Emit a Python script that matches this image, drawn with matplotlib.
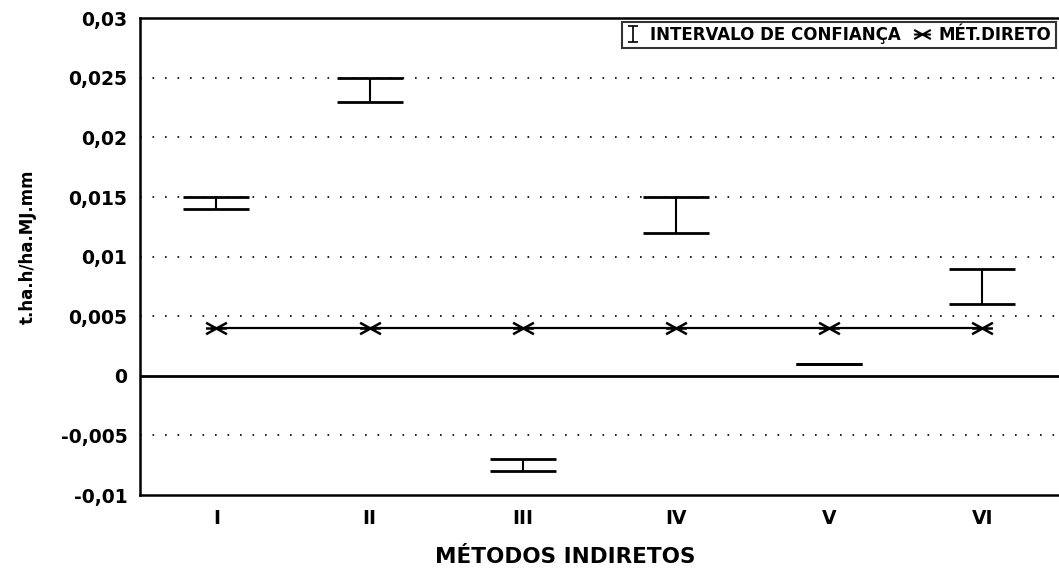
import numpy as np
import matplotlib.pyplot as plt
from matplotlib.lines import Line2D
from matplotlib.path import Path

metodos = ['I', 'II', 'III', 'IV', 'V', 'VI']
ic_sup = [0.015, 0.025, -0.007, 0.015, 0.001, 0.009]
ic_inf = [0.014, 0.023, -0.008, 0.012, 0.001, 0.006]
met_direto = [0.004, 0.004, 0.004, 0.004, 0.004, 0.004]
yticks = [-0.01, -0.005, 0, 0.005, 0.01, 0.015, 0.02, 0.025, 0.03]

plt.rcParams['font.family'] = ['DejaVu Sans']

# asterisco achatado (horizontal + duas diagonais)
asterisco = Path([(-1, 0), (1, 0), (-1, -0.55), (1, 0.55), (-1, 0.55), (1, -0.55)],
                 [Path.MOVETO, Path.LINETO, Path.MOVETO, Path.LINETO, Path.MOVETO, Path.LINETO])

fig = plt.figure(figsize=(10.59, 5.71), dpi=100)
ax = fig.add_axes([0.132, 0.133, 0.868, 0.835])

x = np.arange(1, len(metodos) + 1)
sup = np.array(ic_sup)
inf = np.array(ic_inf)
centro = (sup + inf) / 2
erro = (sup - inf) / 2

for y in yticks[1:-1]:
    if y != 0:
        ax.axhline(y, color='black', lw=1.2, ls=(0, (1, 6.5)), zorder=1)
ax.axhline(0, color='black', lw=2, zorder=2)

ax.errorbar(x, centro, yerr=erro, fmt='none', ecolor='black', elinewidth=1.5,
            capsize=24, capthick=2, zorder=3)
ax.plot(x, met_direto, color='black', lw=1.6, marker=asterisco, markersize=15,
        markeredgewidth=1.8, markerfacecolor='none', zorder=4)

ax.set_xlim(0.5, 6.5)
ax.set_ylim(-0.01, 0.03)
ax.set_yticks(yticks)
ax.set_yticklabels([('%g' % v).replace('.', ',') for v in yticks])
ax.set_xticks(x)
ax.set_xticklabels(metodos)
ax.tick_params(axis='y', length=0, labelsize=13.5, pad=9)
ax.tick_params(axis='x', length=0, labelsize=13.5, pad=10)
for lab in ax.get_xticklabels() + ax.get_yticklabels():
    lab.set_fontweight('bold')

for s in ['left', 'bottom', 'top']:
    ax.spines[s].set_linewidth(1.8)
ax.spines['right'].set_visible(False)

ax.set_xlabel('MÉTODOS INDIRETOS', fontsize=15.5, fontweight='bold')
ax.xaxis.set_label_coords(0.4625, -0.108)
ax.set_ylabel('t.ha.h/ha.MJ.mm', fontsize=12, fontweight='bold')
ax.yaxis.set_label_coords(-0.112, 0.52)

# proxies para a legenda
h_ic = ax.errorbar([np.nan], [np.nan], yerr=[1], fmt='none', ecolor='black',
                   elinewidth=1.2, capsize=3.5, capthick=1.2)
h_md = Line2D([], [], color='black', lw=0, marker=asterisco, markersize=12,
              markeredgewidth=1.5, markerfacecolor='none')
leg = ax.legend([h_ic, h_md], ['INTERVALO DE CONFIANÇA', 'MÉT.DIRETO'], loc='upper right',
                ncol=2, frameon=True, fancybox=False, edgecolor='black',
                prop={'size': 12, 'weight': 'bold'},
                handlelength=0.8, handletextpad=0.6, columnspacing=0.9,
                borderaxespad=0.2, borderpad=0.25)
leg.get_frame().set_linewidth(1.5)

fig.savefig('out.png', dpi=100)
